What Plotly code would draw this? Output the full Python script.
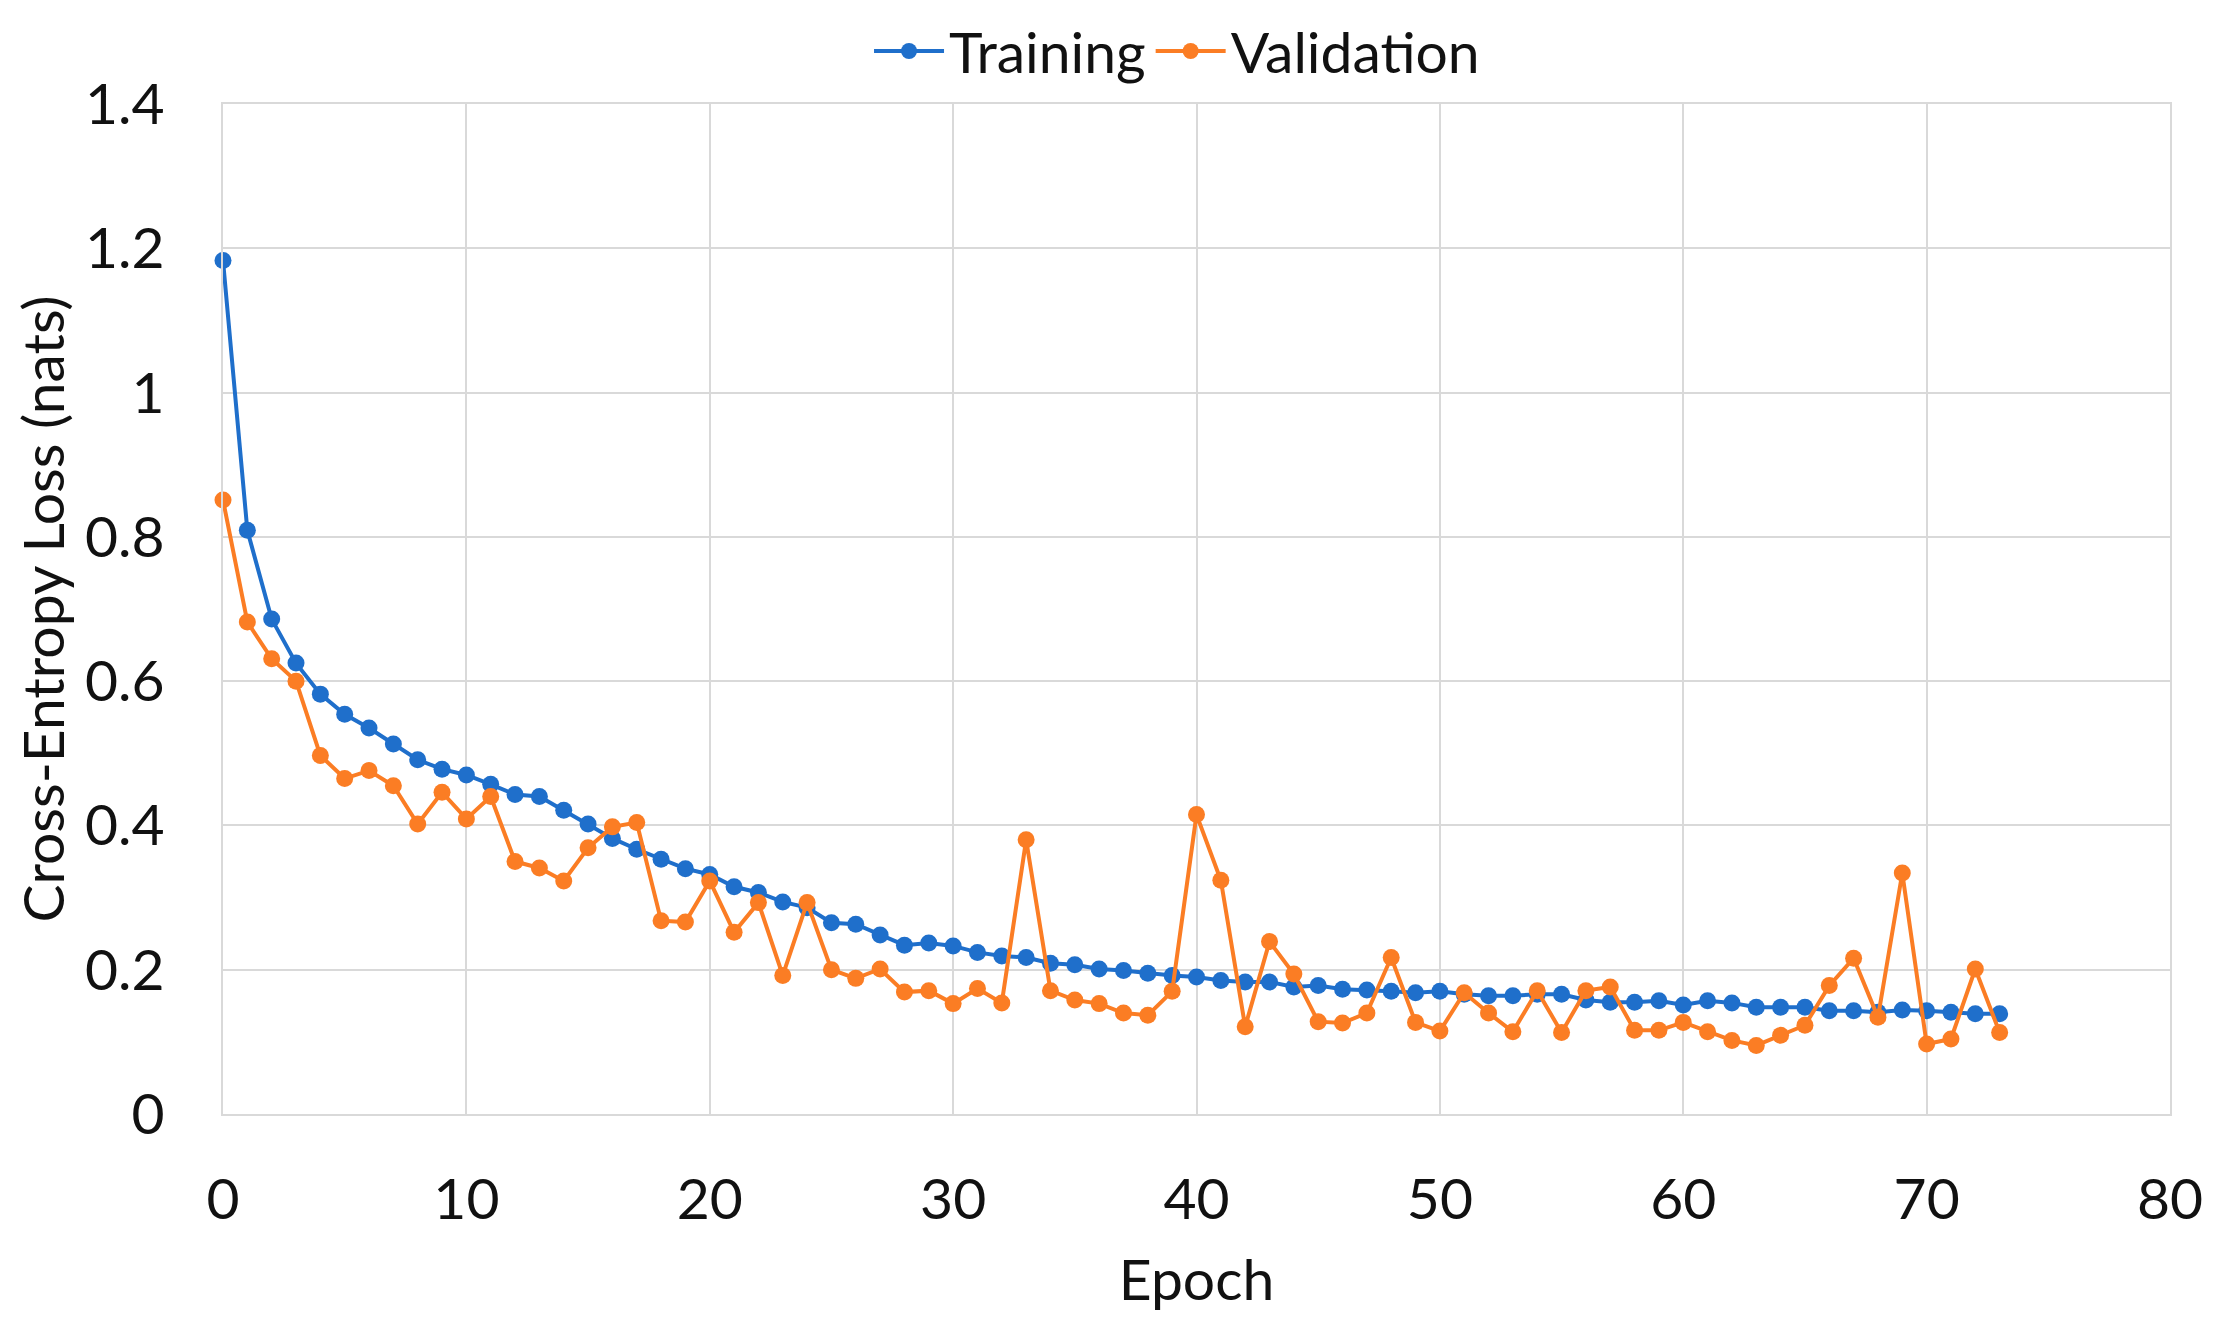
import plotly.graph_objects as go

epochs = list(range(74))
training = [1.183, 0.809, 0.686, 0.625, 0.582, 0.554, 0.535, 0.513, 0.491, 0.478,
            0.470, 0.457, 0.443, 0.440, 0.421, 0.402, 0.382, 0.367, 0.353, 0.340,
            0.332, 0.315, 0.307, 0.294, 0.286, 0.265, 0.263, 0.248, 0.234, 0.237,
            0.233, 0.224, 0.219, 0.217, 0.209, 0.207, 0.201, 0.199, 0.195, 0.192,
            0.190, 0.185, 0.183, 0.183, 0.176, 0.178, 0.173, 0.172, 0.170, 0.168,
            0.170, 0.166, 0.164, 0.164, 0.166, 0.166, 0.158, 0.155, 0.155, 0.157,
            0.151, 0.157, 0.154, 0.148, 0.148, 0.148, 0.143, 0.143, 0.141, 0.144,
            0.143, 0.141, 0.139, 0.139]
validation = [0.851, 0.682, 0.631, 0.600, 0.497, 0.465, 0.476, 0.455, 0.402, 0.446,
              0.409, 0.440, 0.350, 0.341, 0.323, 0.369, 0.398, 0.404, 0.268, 0.266,
              0.323, 0.252, 0.293, 0.192, 0.293, 0.200, 0.188, 0.201, 0.169, 0.171,
              0.153, 0.174, 0.154, 0.380, 0.171, 0.158, 0.153, 0.140, 0.137, 0.170,
              0.415, 0.324, 0.121, 0.239, 0.194, 0.128, 0.126, 0.140, 0.217, 0.127,
              0.115, 0.168, 0.140, 0.114, 0.171, 0.113, 0.171, 0.176, 0.116, 0.116,
              0.127, 0.114, 0.102, 0.095, 0.109, 0.123, 0.178, 0.216, 0.134, 0.334,
              0.097, 0.104, 0.201, 0.113]

BLUE = "#1F6FCB"
ORANGE = "#FB7D24"
GRID = "#D9D9D9"
FONT = "Lato"
FS = 57

fig = go.Figure()
fig.add_trace(go.Scatter(x=epochs, y=training, name="Training", mode="lines+markers",
                         line=dict(color=BLUE, width=4),
                         marker=dict(color=BLUE, size=17), cliponaxis=False))
fig.add_trace(go.Scatter(x=epochs, y=validation, name="Validation", mode="lines+markers",
                         line=dict(color=ORANGE, width=4),
                         marker=dict(color=ORANGE, size=17), cliponaxis=False))

fig.update_layout(
    width=2214, height=1325,
    margin=dict(l=215, r=52, t=96, b=219, autoexpand=False),
    paper_bgcolor="white", plot_bgcolor="white",
    font=dict(family=FONT, size=FS, color="#111111"),
    legend=dict(orientation="h", x=0.49, xanchor="center", y=1.052, yanchor="middle",
                font=dict(size=FS), itemwidth=70, tracegroupgap=0,
                bgcolor="rgba(0,0,0,0)"),
    showlegend=True,
)
fig.update_xaxes(range=[0, 80], dtick=10, tick0=0, showgrid=True, gridcolor=GRID, gridwidth=2,
                 zeroline=False, showline=True, linecolor=GRID, linewidth=2, mirror=True,
                 ticks="", ticklabelstandoff=35, automargin=False,
                 title=dict(text="Epoch", standoff=30, font=dict(size=FS)))
fig.update_yaxes(range=[0, 1.4], dtick=0.2, tick0=0, showgrid=True, gridcolor=GRID, gridwidth=2,
                 zeroline=False, showline=True, linecolor=GRID, linewidth=2, mirror=True,
                 ticks="", ticklabelstandoff=45, automargin=False,
                 title=dict(text="Cross-Entropy Loss (nats)", standoff=20, font=dict(size=FS)))

fig.write_html("out.html")
